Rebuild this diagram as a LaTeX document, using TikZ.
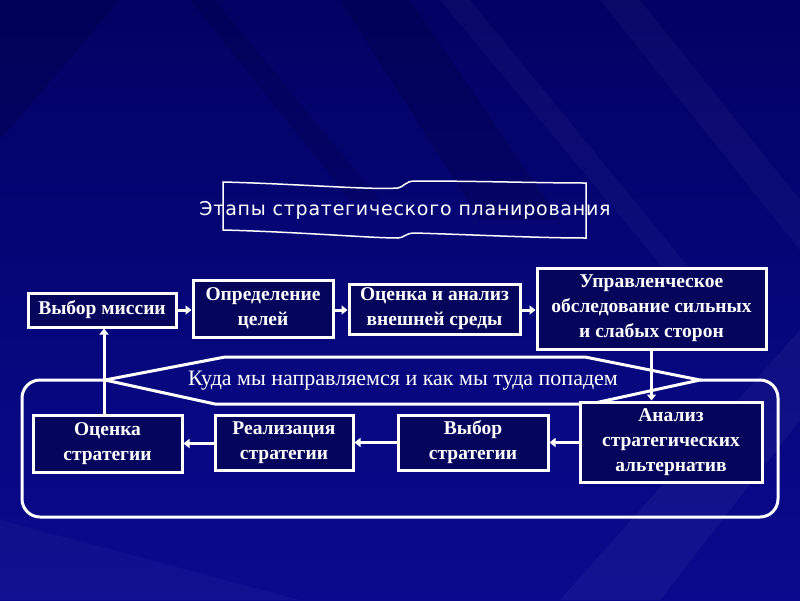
\documentclass[tikz,border=0pt]{standalone}
\usepackage{fontspec}
\setmainfont{Liberation Serif}
\newfontfamily\titlefont{DejaVu Sans}
\usetikzlibrary{arrows.meta,calc}
\definecolor{bgtop}{RGB}{2,2,100}
\definecolor{bgmid}{RGB}{6,6,122}
\definecolor{bgbot}{RGB}{10,10,142}
\definecolor{boxfill}{RGB}{5,5,92}
\tikzset{
  wl/.style={draw=white, line width=3pt},
  stagebox/.style={draw=white, line width=3pt, fill=boxfill, text=white, align=center,
    inner sep=0pt, font=\bfseries\fontsize{19.5}{25}\selectfont},
  arr/.style={draw=white, line width=3pt, -{Triangle[length=6pt,width=9pt]}},
}
\begin{document}
\begin{tikzpicture}[x=1pt,y=-1pt]
\useasboundingbox (0,0) rectangle (800,600);
\shade[top color=bgtop, bottom color=bgbot, middle color=bgmid] (0,0) rectangle (800,600);
% background streaks
\fill[black, opacity=0.12] (0,0) -- (120,0) -- (0,140) -- cycle;
\fill[black, opacity=0.10] (190,0) -- (215,0) -- (380,200) -- (350,200) -- cycle;
\fill[black, opacity=0.12] (340,0) -- (410,0) -- (560,220) -- (480,220) -- cycle;
\fill[white, opacity=0.03] (440,0) -- (470,0) -- (740,330) -- (715,330) -- cycle;
\fill[white, opacity=0.03] (600,0) -- (640,0) -- (800,200) -- (800,250) -- cycle;
\fill[white, opacity=0.04] (560,600) -- (800,330) -- (800,420) -- (660,600) -- cycle;
\fill[white, opacity=0.03] (0,600) -- (0,520) -- (300,600) -- cycle;

% title banner
\draw[draw=white, line width=1.5pt]
  (223,182) .. controls (300,184) and (370,190) .. (398,188)
  .. controls (404,187) and (405,181) .. (415,181)
  .. controls (480,181) and (540,183) .. (586,183)
  -- (586,238)
  .. controls (540,238) and (480,235) .. (415,233)
  .. controls (405,233) and (404,238) .. (398,238)
  .. controls (370,238) and (300,232) .. (223,230) -- cycle;
\node[text=white, font=\titlefont\fontsize{19}{22}\selectfont\addfontfeatures{LetterSpace=4}] (title) at (405,210) {Этапы стратегического планирования};

% rounded frame and hexagon
\draw[wl, rounded corners=18pt] (105,380) -- (22,380) -- (22,517) -- (778,517) -- (778,380) -- (700,380);
\draw[wl] (105,380) -- (225,357) -- (585,357) -- (700,380) -- (590,404) -- (215,404) -- cycle;
\node[text=white, font=\fontsize{22}{24}\selectfont] (hex) at (403,381) {Куда мы направляемся и как мы туда попадем};

% top row
\node[stagebox, minimum width=148pt, minimum height=34pt] (b1) at (102,310) {Выбор миссии};
\node[stagebox, minimum width=140pt, minimum height=57pt] (b2) at (263,308.5) {Определение\\целей};
\node[stagebox, minimum width=171pt, minimum height=50pt] (b3) at (434.5,309) {Оценка и анализ\\внешней среды};
\node[stagebox, minimum width=229pt, minimum height=81pt] (b4) at (651.5,308.5) {Управленческое\\обследование сильных\\и слабых сторон};

% bottom row
\node[stagebox, minimum width=149pt, minimum height=57pt] (b5) at (107.5,443.5) {Оценка\\стратегии};
\node[stagebox, minimum width=138pt, minimum height=55pt] (b6) at (284,442.5) {Реализация\\стратегии};
\node[stagebox, minimum width=150pt, minimum height=55pt] (b7) at (473,442.5) {Выбор\\стратегии};
\node[stagebox, minimum width=182pt, minimum height=80pt] (b8) at (671,442) {Анализ\\стратегических\\альтернатив};

% connectors
\draw[arr] (b1.east) -- (b1.east -| b2.west);
\draw[arr] (b2.east |- b1.east) -- (b3.west |- b1.east);
\draw[arr] (b3.east |- b1.east) -- (b4.west |- b1.east);
\draw[arr] (b4.south) -- (b4.south |- b8.north);
\draw[arr] (b8.west |- b7.east) -- (b7.east);
\draw[arr] (b7.west) -- (b6.east);
\draw[arr] (b6.west |- b5.east) -- (b5.east);
\draw[arr] ([xshift=-3.5pt]b5.north) -- ([xshift=-3.5pt]b5.north |- b1.south);
\end{tikzpicture}
\end{document}
